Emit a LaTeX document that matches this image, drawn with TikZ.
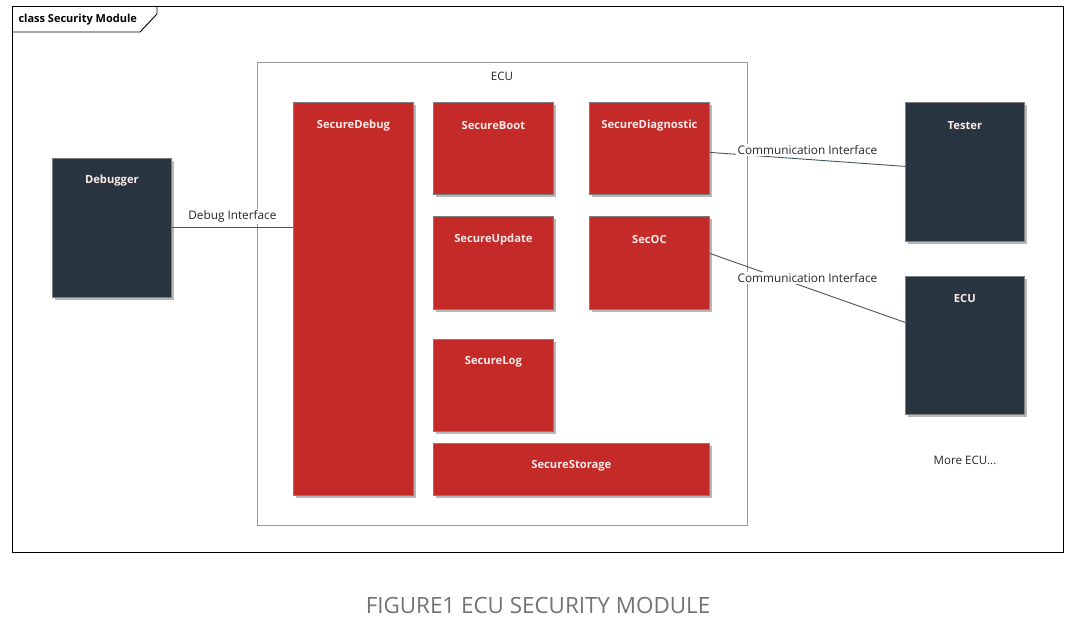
\documentclass[tikz,border=0pt]{standalone}
\usepackage{fontspec}
\setmainfont{Open Sans}
\usetikzlibrary{shadows}
\definecolor{secred}{HTML}{C32A28}
\definecolor{darkbox}{HTML}{283440}
\definecolor{boxedge}{HTML}{7F7F7F}
\definecolor{linecol}{HTML}{4A5560}
\tikzset{
  shad/.style={drop shadow={shadow xshift=3pt, shadow yshift=-3pt, fill=black!28, opacity=1}},
  redbox/.style={shad, fill=secred, draw=boxedge, line width=0.8pt, anchor=north west, inner sep=0pt},
  darkbox/.style={shad, fill=darkbox, draw=boxedge, line width=0.8pt, anchor=north west, inner sep=0pt},
  boxlbl/.style={font=\fontsize{11.2}{13}\selectfont\bfseries, text=white!92!red, anchor=center},
  conn/.style={draw=linecol, line width=0.9pt},
  connlbl/.style={font=\fontsize{11.8}{14}\selectfont, text=black!85, fill=white, inner sep=1.5pt}
}
\begin{document}
\begin{tikzpicture}[x=1pt,y=-1pt]
\useasboundingbox (0,0) rectangle (1082,629);
\fill[white] (0,0) rectangle (1082,629);
% frame
\draw[line width=0.9pt, black] (12,6) rectangle (1063,552);
\draw[line width=0.9pt, black] (12,32) -- (140,32) -- (157,14) -- (157,6);
\node[font=\fontsize{11}{13}\selectfont\bfseries, anchor=west] (title) at (15,19.5) {class Security Module};
% ECU container
\node[draw=black!40, line width=0.8pt, minimum width=490pt, minimum height=463pt, anchor=north west, inner sep=0pt] (ecu) at (257,62) {};
\node[font=\fontsize{11.6}{14}\selectfont, text=black!85] (ecul) at (502,76) {ECU};
% red boxes
\node[redbox, minimum width=120pt, minimum height=393pt] (sdebug) at (293,102) {};
\node[redbox, minimum width=120pt, minimum height=92pt] (sboot) at (433,102) {};
\node[redbox, minimum width=120pt, minimum height=92pt] (sdiag) at (589,102) {};
\node[redbox, minimum width=120pt, minimum height=93pt] (supd) at (433,216) {};
\node[redbox, minimum width=120pt, minimum height=93pt] (secoc) at (589,216) {};
\node[redbox, minimum width=120pt, minimum height=92pt] (slog) at (433,339) {};
\node[redbox, minimum width=276pt, minimum height=52pt] (sstor) at (433,443) {};
\node[boxlbl] at (sdebug.north |- 0,125.5) {SecureDebug};
\node[boxlbl] at (sboot.north |- 0,125.5) {SecureBoot};
\node[boxlbl] at (sdiag.north |- 0,125.5) {SecureDiagnostic};
\node[boxlbl] at (supd.north |- 0,239.5) {SecureUpdate};
\node[boxlbl] at (secoc.north |- 0,239.5) {SecOC};
\node[boxlbl] at (slog.north |- 0,361.5) {SecureLog};
\node[boxlbl] at (sstor.north |- 0,465.5) {SecureStorage};
% dark boxes
\node[darkbox, minimum width=119pt, minimum height=139pt] (dbg) at (52,158) {};
\node[darkbox, minimum width=119pt, minimum height=139pt] (tester) at (905,102) {};
\node[darkbox, minimum width=119pt, minimum height=138pt] (ecu2) at (905,276) {};
\node[boxlbl] at (dbg.north |- 0,180.5) {Debugger};
\node[boxlbl] at (tester.north |- 0,125.5) {Tester};
\node[boxlbl] at (ecu2.north |- 0,298.5) {ECU};
\node[font=\fontsize{11.6}{14}\selectfont, text=black!85] (more) at (965,460) {More ECU...};
% connectors
\draw[conn] (dbg.east) -- (dbg.east -| sdebug.west)
  node[connlbl, midway, yshift=11pt] {Debug Interface};
\draw[conn] ([yshift=-4pt]sdiag.east) -- ([yshift=5.5pt]tester.west)
  node[connlbl, midway, yshift=9pt] {Communication Interface};
\draw[conn] ([yshift=9.5pt]secoc.east) -- ([yshift=23pt]ecu2.west)
  node[connlbl, midway, yshift=9.5pt] {Communication Interface};
% caption
\node[font=\fontsize{22.4}{26}\selectfont, text=black!55] (cap) at (538,605) {FIGURE1 ECU SECURITY MODULE};
\end{tikzpicture}
\end{document}
